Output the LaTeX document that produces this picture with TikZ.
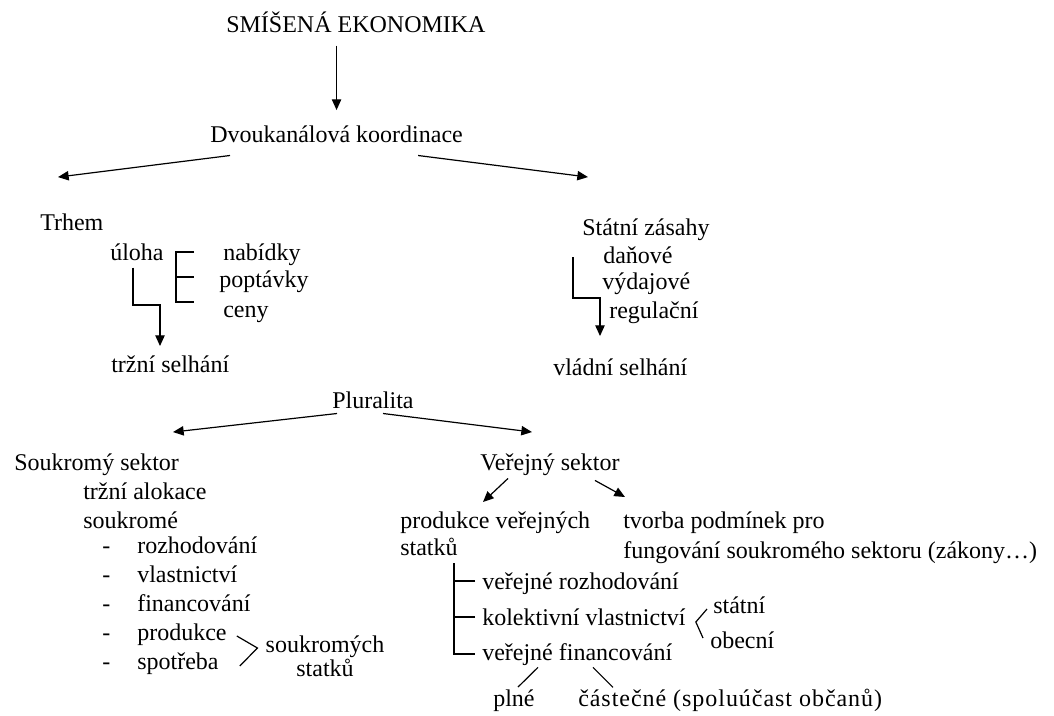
\documentclass[tikz,border=0pt]{standalone}
\usepackage{fontspec}
\setmainfont{Liberation Serif}
\usetikzlibrary{arrows.meta,calc}

\begin{document}
\begin{tikzpicture}[x=0.75pt, y=-0.75pt,
  every node/.style={font=\fontsize{18pt}{21.6pt}\selectfont, inner sep=0pt, anchor=base west},
  arr/.style={-{Triangle[length=8pt,width=7pt]}, line width=.9pt},
  ln/.style={line width=.9pt}]
\useasboundingbox (0,0) rectangle (1054,715);
\node (title) at (226,32) {SMÍŠENÁ EKONOMIKA};
\node (koord) at (210,142) {Dvoukanálová koordinace};
\node (trh) at (40,230) {Trhem};
\node (uloha) at (110,260) {úloha};
\node (nab) at (223,260) {nabídky};
\node (popt) at (219,287) {poptávky};
\node (ceny) at (223,317) {ceny};
\node (trzsel) at (111,372) {tržní selhání};
\node (stat) at (582,235) {Státní zásahy};
\node (dan) at (603,263) {daňové};
\node (vyd) at (602,289) {výdajové};
\node (reg) at (609,318) {regulační};
\node (vladsel) at (553,375) {vládní selhání};
\node (plur) at (332,408) {Pluralita};
\node (souk) at (14,470) {Soukromý sektor};
\node (trzalok) at (83,499) {tržní alokace};
\node (soukr) at (83,528) {soukromé};
\foreach \t [count=\i] in {rozhodování,vlastnictví,financování,produkce,spotřeba}{
  \node (dash\i) at (102,524+29*\i) {-};
  \node (sp\i) at (137,524+29*\i) {\t};
}
\node[anchor=north, align=center] (soukst) at (325,636) {soukromých\\[-3.6pt]statků};
\node (verejny) at (480,470) {Veřejný sektor};
\node[anchor=north west, align=left] (prodvs) at (400,512) {produkce veřejných\\[-1.35pt]statků};
\node[anchor=north west, align=left] (tvorba) at (623,512) {tvorba podmínek pro\\[0.9pt]fungování soukromého sektoru (zákony…)};
\node (verroz) at (482,589) {veřejné rozhodování};
\node (kolvl) at (482,625) {kolektivní vlastnictví};
\node (verfin) at (482,660) {veřejné financování};
\node (statni) at (713,613) {státní};
\node (obecni) at (710,648) {obecní};
\node (plne) at (493,706) {plné};
\node (castec) at (578,706) {\addfontfeature{LetterSpace=4}částečné (spoluúčast občanů)};

\draw[arr] ($(title.south -| koord.north)+(0,13)$) -- ($(koord.north)+(0,-15)$);
\draw[arr] ($(koord.south west)+(20,13)$) -- ($(trh.north west)+(18,-36)$);
\draw[arr] ($(koord.south east)+(-45,13)$) -- ($(stat.north west)+(6,-41)$);

\draw[ln] ($(nab.base west)+(-29,-8)$) -| ($(ceny.base west)+(-47,-15)$) -- ($(ceny.base west)+(-29,-15)$);
\draw[ln] ($(popt.base west)+(-43,-10)$) -- ++(18,0);
\draw[arr] ($(uloha.south west)+(23,7)$) |- ($(trzsel.north west)+(49,-50)$) -- ($(trzsel.north west)+(49,-9)$);
\draw[arr] ($(stat.south west)+(-9,17)$) |- ($(vladsel.north west)+(47,-60)$) -- ($(vladsel.north west)+(47,-22)$);

\draw[arr] ($(plur.south west)+(5,5)$) -- ($(souk.north west)+(159,-21)$);
\draw[arr] ($(plur.south west)+(51,5)$) -- ($(verejny.north west)+(52,-21)$);
\draw[ln] ($(sp4.base east)+(10,-4)$) -- ($(soukst.north west)+(-8,12)$) -- ($(sp5.base east)+(21,-3)$);

\draw[arr] ($(verejny.south west)+(28,3)$) -- ($(prodvs.north west)+(83,-10)$);
\draw[arr] ($(verejny.south west)+(115,5)$) -- ($(tvorba.north west)+(2,-15)$);
\draw[ln] ($(prodvs.south west)+(54,7)$) |- ($(verfin.base west)+(-7,-6)$);
\foreach \n in {verroz,kolvl}{\draw[ln] ($(\n.base west)+(-7,-8)$) -- ++(-21,0);}
\draw[ln] ($(statni.base west)+(-6,-4)$) -- ($(kolvl.base east)+(10,-3)$) -- ($(obecni.base west)+(-7,-10)$);
\draw[ln] ($(verfin.south west)+(56,2)$) -- ($(plne.north west)+(25,-2)$);
\draw[ln] ($(verfin.south west)+(111,2)$) -- ($(castec.north west)+(35,-1)$);
\end{tikzpicture}
\end{document}
